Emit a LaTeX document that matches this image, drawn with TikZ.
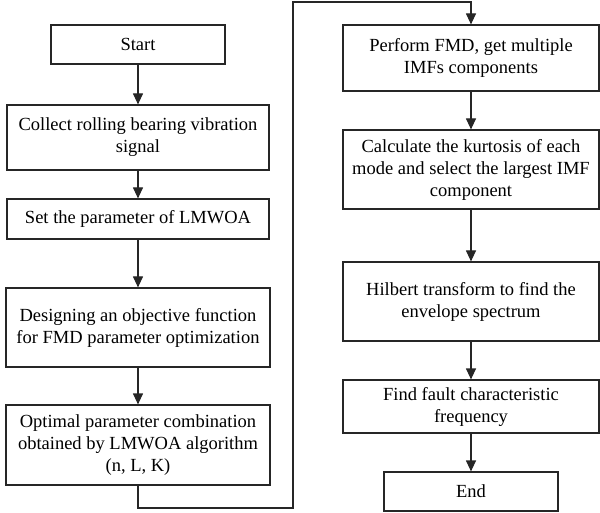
\documentclass[tikz,border=0pt]{standalone}
\usepackage{fontspec}
\setmainfont{Liberation Serif}
\usetikzlibrary{arrows.meta}

\begin{document}
\begin{tikzpicture}[x=1pt,y=-1pt,
  box/.style={draw=black!85,line width=1.2pt,rectangle,align=center,inner sep=2pt,
    font=\fontsize{18.5}{22}\selectfont},
  arr/.style={draw=black!85,line width=1.2pt,-{Triangle[length=11pt,width=10pt]}}]
\useasboundingbox (0,0) rectangle (600,513);
\node[box,minimum width=174pt,minimum height=39pt] (start) at (138,44.5) {Start};
\node[box,minimum width=262pt,minimum height=65pt] (collect) at (138,137.5) {Collect rolling bearing vibration\\signal};
\node[box,minimum width=262pt,minimum height=40pt] (set) at (138,219) {Set the parameter of LMWOA};
\node[box,minimum width=264pt,minimum height=79pt] (design) at (138,327.5) {Designing an objective function\\for FMD parameter optimization};
\node[box,minimum width=264pt,minimum height=80pt] (optim) at (138,445) {Optimal parameter combination\\obtained by LMWOA algorithm\\(n, L, K)};
\node[box,minimum width=256pt,minimum height=66pt] (perform) at (471,58) {Perform FMD, get multiple\\IMFs components};
\node[box,minimum width=256pt,minimum height=79pt] (kurt) at (471,169.5) {Calculate the kurtosis of each\\mode and select the largest IMF\\component};
\node[box,minimum width=256pt,minimum height=79pt] (hilbert) at (471,301.5) {Hilbert transform to find the\\envelope spectrum};
\node[box,minimum width=256pt,minimum height=53pt] (fault) at (471,406.5) {Find fault characteristic\\frequency};
\node[box,minimum width=174pt,minimum height=39pt] (end) at (471,491.5) {End};
\coordinate (turnlow) at (293,508);
\coordinate (turnhigh) at (293,2);
\draw[arr] (start) -- (collect);
\draw[arr] (collect) -- (set);
\draw[arr] (set) -- (design);
\draw[arr] (design) -- (optim);
\draw[arr] (optim.south) |- (turnlow) |- (perform.north |- turnhigh) -- (perform.north);
\draw[arr] (perform) -- (kurt);
\draw[arr] (kurt) -- (hilbert);
\draw[arr] (hilbert) -- (fault);
\draw[arr] (fault) -- (end);
\end{tikzpicture}
\end{document}
